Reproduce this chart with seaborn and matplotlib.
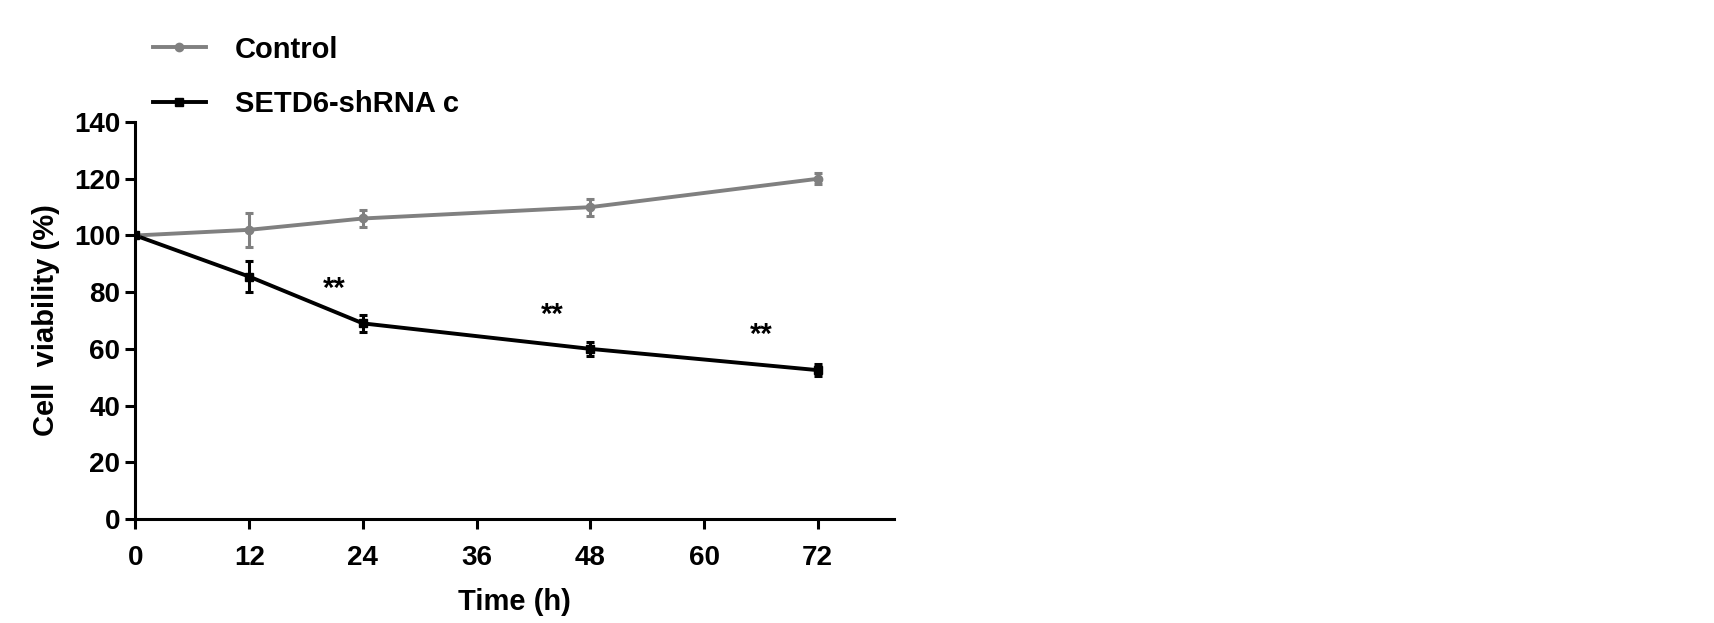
import matplotlib
matplotlib.use("Agg")
import matplotlib.pyplot as plt
import seaborn as sns
import pandas as pd

times = [0, 12, 24, 48, 72]
control = [100, 102, 106, 110, 120]
control_err = [0, 6, 3, 3, 2]
shrna = [100, 85.5, 69, 60, 52.5]
shrna_err = [0, 5.5, 3, 2.5, 2]
star_x = [21, 44, 66]
star_y = [81, 72, 65]
xticks = [0, 12, 24, 36, 48, 60, 72]
yticks = [0, 20, 40, 60, 80, 100, 120, 140]

plt.rcParams["font.family"] = "Liberation Sans"
plt.rcParams["font.weight"] = "bold"
fig = plt.figure(figsize=(17.15, 6.23), dpi=100)
ax = fig.add_axes([0.079, 0.167, 0.442, 0.637])

df = pd.DataFrame({"t": times * 2, "v": control + shrna,
                   "g": ["Control"] * 5 + ["SETD6-shRNA c"] * 5})
pal = {"Control": "#808080", "SETD6-shRNA c": "#000000"}
sns.lineplot(data=df, x="t", y="v", hue="g", palette=pal, ax=ax, linewidth=2.8,
             legend=False)
for vals, errs, c, m in [(control, control_err, "#808080", "o"), (shrna, shrna_err, "#000000", "s")]:
    ax.errorbar(times, vals, yerr=errs, fmt=m, color=c, ms=6, capsize=3, elinewidth=2.2, capthick=2.2)
for x, y in zip(star_x, star_y):
    ax.text(x, y, "**", ha="center", va="center", fontsize=21, fontweight="bold")

ax.set_xlim(0, 80)
ax.set_ylim(0, 140)
ax.set_xticks(xticks)
ax.set_yticks(yticks)
ax.tick_params(labelsize=20, width=2.2, length=7, pad=12)
ax.tick_params(axis="y", pad=4)
for s in ["top", "right"]:
    ax.spines[s].set_visible(False)
for s in ["left", "bottom"]:
    ax.spines[s].set_linewidth(2.2)
ax.set_xlabel("Time (h)", fontsize=21, fontweight="bold", labelpad=12)
ax.set_ylabel("Cell  viability (%)", fontsize=21, fontweight="bold", labelpad=10)

from matplotlib.lines import Line2D
handles = [Line2D([], [], color="#808080", marker="o", lw=2.8, ms=6),
           Line2D([], [], color="#000000", marker="s", lw=2.8, ms=6)]
fig.legend(handles, ["Control", "SETD6-shRNA c"], loc="upper left",
           bbox_to_anchor=(0.074, 0.985), frameon=False, fontsize=21,
           handlelength=1.8, handletextpad=1.0, labelspacing=0.9)
fig.savefig("out.png", dpi=100)
